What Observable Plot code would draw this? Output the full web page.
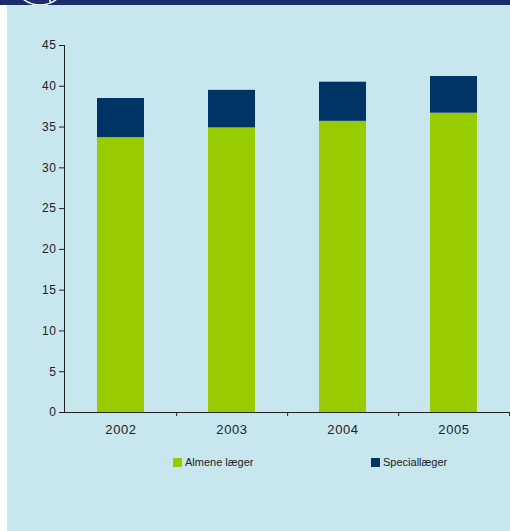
<!DOCTYPE html>
<html>
<head>
<meta charset="utf-8">
<script src="https://cdn.jsdelivr.net/npm/d3@7"></script>
<script src="https://cdn.jsdelivr.net/npm/@observablehq/plot@0.6"></script>
<style>
  html, body { margin: 0; padding: 0; background: #ffffff; }
  #wrap { position: relative; width: 510px; height: 531px; overflow: hidden; font-family: "Liberation Sans", Arial, sans-serif; }
  #band { position: absolute; left: 0; top: 0; width: 510px; height: 5px; background: #1b2d6b; overflow: hidden; }
  #panel { position: absolute; left: 7px; top: 5px; width: 503px; height: 526px; background: #c8e6ee; }
  #chart { position: absolute; left: 0; top: 0; }
  .leg { position: absolute; top: 456px; font-size: 11px; color: #222; display: flex; align-items: center; white-space: nowrap; }
  .leg span.sw { display: inline-block; width: 9px; height: 9px; margin-right: 3px; }
</style>
</head>
<body>
<div id="wrap">
  <div id="band">
    <svg width="510" height="5" style="position:absolute;left:0;top:0">
      <circle cx="40" cy="-22" r="27" fill="none" stroke="#ffffff" stroke-width="1.5"></circle>
      <circle cx="50" cy="1" r="1" fill="#ffffff"></circle>
    </svg>
  </div>
  <div id="panel"></div>
  <div id="chart"></div>
  <div class="leg" style="left:173px"><span class="sw" style="background:#99cc00"></span><span id="l1"></span></div>
  <div class="leg" style="left:371px"><span class="sw" style="background:#003366"></span><span id="l2"></span></div>
</div>
<script>
const years = ["2002", "2003", "2004", "2005"];
const almene = [33.7, 34.9, 35.7, 36.7];
const special = [4.8, 4.6, 4.8, 4.5];
const seriesNames = ["Almene læger", "Speciallæger"];
const seriesColors = ["#99cc00", "#003366"];
const yTicks = [0, 5, 10, 15, 20, 25, 30, 35, 40, 45];

document.getElementById("l1").textContent = seriesNames[0];
document.getElementById("l2").textContent = seriesNames[1];

const data = [];
years.forEach((y, i) => {
  data.push({year: y, series: seriesNames[0], value: almene[i]});
  data.push({year: y, series: seriesNames[1], value: special[i]});
});

const W = 510, H = 440, ML = 64, MR = 1, MT = 45, MB = 28;
const step = (W - ML - MR) / years.length;

const chart = Plot.plot({
  width: W,
  height: H,
  marginLeft: ML,
  marginRight: MR,
  marginTop: MT,
  marginBottom: MB,
  style: {background: "transparent", color: "#222", fontFamily: "Liberation Sans, Arial, sans-serif"},
  x: {domain: years, paddingInner: 0.58, paddingOuter: 0.29, label: null},
  y: {domain: [0, 45], label: null},
  color: {domain: seriesNames, range: seriesColors},
  marks: [
    Plot.barY(data, Plot.stackY({x: "year", y: "value", fill: "series", order: seriesNames})),
    Plot.ruleY([0], {stroke: "#222", strokeWidth: 1}),
    Plot.frame({anchor: "left", stroke: "#222"}),
    Plot.ruleX(years, {x: d => d, dx: step / 2, y1: 0, y2: 0, insetBottom: -4, stroke: "#222"}),
    Plot.axisY({ticks: yTicks, tickSize: 5, tickPadding: 3, fontSize: 12, stroke: "#222", style: "letter-spacing:0.5px"}),
    Plot.axisX({tickSize: 0, tickPadding: 12, fontSize: 13})
  ]
});
chart.querySelectorAll("text").forEach(t => t.style.letterSpacing = "0.6px");
document.getElementById("chart").appendChild(chart);
</script>
</body>
</html>
